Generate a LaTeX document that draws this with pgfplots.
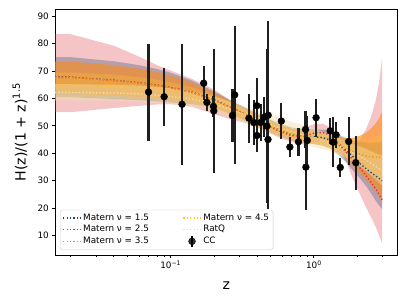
\documentclass[border=0pt]{standalone}
\usepackage{pgfplots}
\pgfplotsset{compat=1.18}
\usepackage{pgfplotstable}
\usepgfplotslibrary{fillbetween}
\usepackage{fontspec}
\setmainfont{DejaVu Sans}

\definecolor{cA}{RGB}{30,75,110}
\definecolor{cB}{RGB}{228,50,50}
\definecolor{cC}{RGB}{255,140,20}
\definecolor{cD}{RGB}{255,195,50}
\definecolor{cE}{RGB}{240,222,170}
\definecolor{pinkband}{RGB}{225,70,80}

\pgfplotstableread{
z m15 l15 u15 m25 l25 u25 m35 h35 m45 h45 mrq hrq
0.0155 67.8 60.5 75.1 67.7 55.0 83.5 67.6 5.9 65.0 4.5 62.2 3.0
0.02 67.8 60.5 75.1 67.7 55.0 83.5 67.6 5.9 65.0 4.5 62.2 3.0
0.04 66.7 59.8 73.6 66.6 56.5 79.3 66.6 5.6 64.4 4.3 62.0 3.0
0.06 65.8 59.4 72.2 65.7 57.3 75.3 65.7 5.2 63.8 4.0 61.7 3.0
0.08 64.9 59.0 70.8 64.9 57.8 72.2 64.8 4.8 63.2 3.7 61.2 3.0
0.1 64.0 58.6 69.4 64.0 58.0 70.2 63.9 4.4 62.5 3.4 60.7 3.0
0.14 62.3 58.0 66.6 62.4 57.0 67.2 62.2 3.7 61.1 3.0 59.8 2.8
0.2 59.6 56.6 62.6 59.6 54.3 63.3 59.5 2.8 58.8 2.5 58.0 2.7
0.27 56.5 54.0 59.0 56.4 52.2 58.8 56.4 2.3 56.0 2.2 55.8 2.8
0.35 53.6 51.3 55.9 53.5 50.8 56.2 53.5 2.1 53.3 2.0 53.5 3.0
0.45 50.9 48.6 53.2 50.6 48.3 53.3 50.8 2.0 50.8 2.0 51.3 3.3
0.57 48.6 46.3 50.9 48.1 45.8 50.6 48.6 2.0 48.7 2.0 49.3 3.6
0.7 47.0 44.6 49.4 46.4 44.0 48.8 47.0 2.0 47.2 2.0 47.8 3.7
0.85 46.2 43.7 48.7 46.2 43.3 49.1 46.0 2.0 46.2 2.0 46.6 3.6
1.0 46.0 43.3 48.7 47.3 44.0 50.6 45.5 2.1 45.6 2.0 45.6 3.4
1.15 45.7 42.8 48.6 47.6 44.4 50.8 45.0 2.2 45.0 2.1 44.7 3.2
1.3 44.9 41.7 48.1 46.6 43.5 49.5 44.2 2.5 44.3 2.3 43.8 3.0
1.5 43.0 39.2 46.8 43.5 41.0 46.3 43.0 3.0 43.3 2.7 42.5 3.0
1.7 40.9 36.4 45.3 40.0 36.5 44.0 41.6 3.9 42.2 3.3 41.2 3.1
1.9 38.5 33.4 44.6 37.3 30.0 43.5 40.5 5.2 41.3 4.0 40.0 3.3
2.1 36.2 30.8 44.2 34.7 25.0 45.0 39.6 6.8 40.5 4.8 38.8 3.6
2.3 34.5 28.2 44.0 32.0 20.5 48.5 39.0 8.4 39.8 5.6 37.6 4.0
2.5 33.0 25.5 43.8 29.5 16.8 53.0 38.7 10.2 39.2 6.5 36.4 4.4
2.7 31.7 22.7 43.9 27.0 13.2 59.0 38.6 12.2 38.7 7.5 35.2 4.8
2.85 30.8 21.0 44.0 25.0 10.2 65.5 38.5 14.2 38.3 8.2 34.4 5.1
3.0 29.9 19.6 44.3 23.0 7.0 75.0 38.5 16.5 38.0 9.0 33.7 5.5
}\bands

\pgfplotstableread{
z h e
0.07 62.34 17.71
0.09 60.63 10.54
0.12 57.88 22.10
0.17 65.58 6.32
0.179 58.59 3.12
0.199 57.13 3.81
0.20 55.46 22.52
0.27 53.80 9.78
0.28 61.32 25.27
0.352 52.80 8.91
0.3802 51.19 8.33
0.4 57.35 10.26
0.4004 46.46 6.16
0.4247 51.22 6.59
0.4497 53.17 7.39
0.47 49.94 28.05
0.4783 45.01 5.01
0.48 53.87 34.43
0.593 51.73 6.47
0.68 42.25 3.67
0.781 44.18 5.05
0.875 48.69 6.62
0.88 34.91 15.52
0.9 44.67 8.78
1.037 52.97 6.88
1.3 48.16 4.87
1.363 44.05 9.25
1.43 46.73 4.75
1.53 34.79 3.48
1.75 44.29 8.77
1.965 36.53 9.87
}\ccdata

\tikzset{meanline/.style={line width=1.5pt, dash pattern=on 1.5pt off 2.4pt}}
\pgfplotsset{
  legA/.style={legend image code/.code={\draw[cA, meanline] (0pt,0pt) -- (20pt,0pt);}},
  legB/.style={legend image code/.code={\draw[cB, meanline] (0pt,0pt) -- (20pt,0pt);}},
  legC/.style={legend image code/.code={\draw[cC, meanline] (0pt,0pt) -- (20pt,0pt);}},
  legD/.style={legend image code/.code={\draw[cD, meanline] (0pt,0pt) -- (20pt,0pt);}},
  legE/.style={legend image code/.code={\draw[cE, meanline] (0pt,0pt) -- (20pt,0pt);}},
  ccleg/.style={legend image code/.code={%
    \draw[black, line width=2.4pt] (10pt,-6pt) -- (10pt,6pt);
    \fill[black] (10pt,0pt) circle (3.9pt);}},
}

\begin{document}
\begin{tikzpicture}
\begin{axis}[
  at={(0,0)}, anchor=south west,
  scale only axis, width=387.9pt, height=278.2pt,
  xmode=log, xmin=0.01556, xmax=3.85, ymin=2.8, ymax=92.6,
  ytick={10,20,...,90},
  xtick={0.1,1}, xticklabels={10\textsuperscript{−1},10\textsuperscript{0}},
  minor xtick={0.02,0.03,0.04,0.05,0.06,0.07,0.08,0.09,0.2,0.3,0.4,0.5,0.6,0.7,0.8,0.9,2,3},
  tick align=outside, xtick pos=left, ytick pos=left,
  major tick length=3.5pt, minor tick length=2pt,
  major tick style={black, line width=0.8pt},
  minor tick style={black, line width=0.6pt},
  axis line style={line width=0.8pt},
  tick label style={font=\fontsize{10}{12}\selectfont},
  /pgf/number format/assume math mode=true,
  xlabel={z}, ylabel={H(z)/(1 + z)\textsuperscript{1.5}},
  label style={font=\fontsize{16}{19}\selectfont},
  xlabel style={at={(axis description cs:0.5,-0.126)}, anchor=center},
  ylabel style={at={(axis description cs:-0.102,0.5)}, anchor=center},
  legend cell align=left,
  legend columns=2,
  legend style={at={(0.0146,0.02)}, anchor=south west,
    font=\fontsize{10}{12}\selectfont, draw=black!20, fill=white,
    fill opacity=0.8, text opacity=1, rounded corners=2pt,
    /tikz/every even column/.append style={column sep=36pt},
    row sep=0pt, inner sep=2.5pt},
]
% ---- bands
\addplot[draw=none, name path=u25, forget plot] table[x=z,y=u25]{\bands};
\addplot[draw=none, name path=l25, forget plot] table[x=z,y=l25]{\bands};
\addplot[fill=pinkband, fill opacity=0.32, draw=none, forget plot] fill between[of=u25 and l25];

\addplot[draw=none, name path=u15, forget plot] table[x=z,y=u15]{\bands};
\addplot[draw=none, name path=l15, forget plot] table[x=z,y=l15]{\bands};
\addplot[fill=cA, fill opacity=0.3, draw=none, forget plot] fill between[of=u15 and l15];

\addplot[draw=none, name path=u35, forget plot] table[x=z,y expr=\thisrow{m35}+\thisrow{h35}]{\bands};
\addplot[draw=none, name path=l35, forget plot] table[x=z,y expr=\thisrow{m35}-\thisrow{h35}]{\bands};
\addplot[fill=cC, fill opacity=0.6, draw=none, forget plot] fill between[of=u35 and l35];

\addplot[draw=none, name path=u45, forget plot] table[x=z,y expr=\thisrow{m45}+\thisrow{h45}]{\bands};
\addplot[draw=none, name path=l45, forget plot] table[x=z,y expr=\thisrow{m45}-\thisrow{h45}]{\bands};
\addplot[fill=cD, fill opacity=0.3, draw=none, forget plot] fill between[of=u45 and l45];

\addplot[draw=none, name path=urq, forget plot] table[x=z,y expr=\thisrow{mrq}+\thisrow{hrq}]{\bands};
\addplot[draw=none, name path=lrq, forget plot] table[x=z,y expr=\thisrow{mrq}-\thisrow{hrq}]{\bands};
\addplot[fill=cE, fill opacity=0.45, draw=none, forget plot] fill between[of=urq and lrq];

% ---- mean lines
\addplot[cA, meanline, forget plot] table[x=z,y=m15]{\bands};
\addplot[cB, meanline, forget plot] table[x=z,y=m25]{\bands};
\addplot[cC, meanline, forget plot] table[x=z,y=m35]{\bands};
\addplot[cD, meanline, forget plot] table[x=z,y=m45]{\bands};
\addplot[cE, meanline, forget plot] table[x=z,y=mrq]{\bands};

% ---- data
\addplot[only marks, mark=*, mark size=3.9pt, black, forget plot,
  error bars/.cd, y dir=both, y explicit, error mark=none,
  error bar style={line width=2.4pt, black!88}]
  table[x=z, y=h, y error=e]{\ccdata};

% ---- legend (row-major order to mimic column fill)
\addlegendimage{legA}
\addlegendentry{Matern ν = 1.5}
\addlegendimage{legD}
\addlegendentry{Matern ν = 4.5}
\addlegendimage{legB}
\addlegendentry{Matern ν = 2.5}
\addlegendimage{legE}
\addlegendentry{RatQ}
\addlegendimage{legC}
\addlegendentry{Matern ν = 3.5}
\addlegendimage{ccleg}
\addlegendentry{CC}
\end{axis}
\path (-62.3pt,-56.6pt) rectangle (398.5pt,288.7pt);
\end{tikzpicture}
\end{document}
